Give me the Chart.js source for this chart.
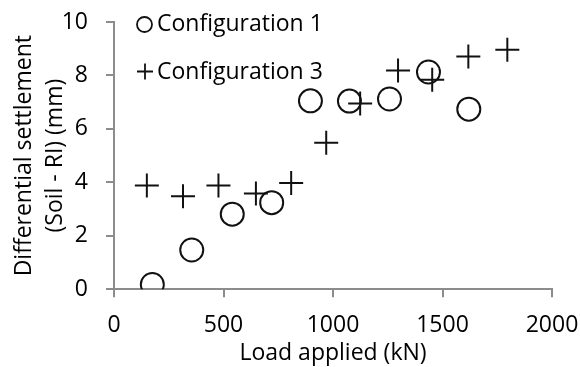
<!DOCTYPE html>
<html>
<head>
<meta charset="utf-8">
<script src="https://cdn.jsdelivr.net/npm/chart.js@4/dist/chart.umd.min.js"></script>
<style>
  html, body { margin: 0; padding: 0; background: #fff; }
  #wrap { width: 580px; height: 367px; position: relative; }
</style>
</head>
<body>
<div id="wrap"><canvas id="c" width="580" height="367"></canvas></div>
<script>
// ---- data ----
const seriesNames = ['Configuration 1', 'Configuration 3'];
const loadConfig1 = [175, 355, 540, 720, 897, 1075, 1258, 1436, 1620];
const settleConfig1 = [0.18, 1.47, 2.81, 3.24, 7.05, 7.04, 7.12, 8.13, 6.74];
const loadConfig3 = [150, 315, 477, 648, 809, 969, 1124, 1297, 1453, 1618, 1796];
const settleConfig3 = [3.88, 3.48, 3.88, 3.58, 3.98, 5.48, 6.95, 8.19, 7.84, 8.71, 8.96];
const xTicks = [0, 500, 1000, 1500, 2000];
const yTicks = [0, 2, 4, 6, 8, 10];
const xTitle = 'Load applied (kN)';
const yTitle = ['Differential settlement', '(Soil - RI) (mm)'];

const FONT = '"Open Sans", "Noto Sans", sans-serif';
const FSIZE = 23;
const AXIS = '#8c8c8c';
const INK = '#111111';

function pts(xs, ys) { return xs.map((x, i) => ({ x: x, y: ys[i] })); }

const insideLegend = {
  id: 'insideLegend',
  afterDraw(chart) {
    const ctx = chart.ctx;
    const items = [
      { ds: chart.data.datasets[0], mx: 144.5, my: 24.5, r: 7.5, ty: 31 },
      { ds: chart.data.datasets[1], mx: 145, my: 71.5, r: 8, ty: 79 }
    ];
    ctx.save();
    items.forEach(it => {
      ctx.strokeStyle = INK;
      ctx.fillStyle = 'rgba(0,0,0,0)';
      ctx.lineWidth = 1.8;
      Chart.helpers.drawPoint(ctx, { pointStyle: it.ds.pointStyle, radius: it.r, rotation: 0, borderWidth: 1.8 }, it.mx, it.my);
      ctx.fillStyle = '#000';
      ctx.font = FSIZE + 'px ' + FONT;
      ctx.textAlign = 'left';
      ctx.textBaseline = 'alphabetic';
      ctx.fillText(it.ds.label, 157, it.ty);
    });
    ctx.restore();
  }
};

new Chart(document.getElementById('c'), {
  type: 'scatter',
  data: {
    datasets: [
      {
        label: seriesNames[0],
        data: pts(loadConfig1, settleConfig1),
        pointStyle: 'circle',
        pointRadius: 11.5,
        pointHoverRadius: 11.5,
        borderWidth: 2,
        borderColor: INK,
        backgroundColor: 'rgba(0,0,0,0)'
      },
      {
        label: seriesNames[1],
        data: pts(loadConfig3, settleConfig3),
        pointStyle: 'cross',
        pointRadius: 12,
        pointHoverRadius: 12,
        borderWidth: 2,
        borderColor: INK,
        backgroundColor: INK
      }
    ]
  },
  options: {
    responsive: false,
    animation: false,
    events: [],
    layout: { padding: { left: 0, right: 28, top: 22, bottom: 0 } },
    plugins: {
      legend: { display: false },
      tooltip: { enabled: false }
    },
    scales: {
      x: {
        type: 'linear',
        min: 0, max: 2000,
        afterBuildTicks: (s) => { s.ticks = xTicks.map(v => ({ value: v })); },
        afterFit: (s) => { s.height = 77.7; s.paddingLeft = 0; s.paddingRight = 0; },
        grid: { drawOnChartArea: false, drawTicks: true, tickLength: 8, color: AXIS, lineWidth: 2 },
        border: { display: true, color: AXIS, width: 2 },
        ticks: { color: '#000', font: { family: FONT, size: FSIZE }, padding: 14, maxRotation: 0, callback: (v) => String(v) },
        title: { display: true, text: xTitle, color: '#000', font: { family: FONT, size: FSIZE, lineHeight: 1.2 }, padding: { top: 0, bottom: 0 } }
      },
      y: {
        type: 'linear',
        min: 0, max: 10,
        afterBuildTicks: (s) => { s.ticks = yTicks.map(v => ({ value: v })); },
        afterFit: (s) => { s.width = 114; s.paddingTop = 0; s.paddingBottom = 0; },
        grid: { drawOnChartArea: false, drawTicks: true, tickLength: 8, color: AXIS, lineWidth: 2 },
        border: { display: true, color: AXIS, width: 2 },
        ticks: { color: '#000', font: { family: FONT, size: FSIZE }, padding: 18, callback: (v) => String(v) },
        title: { display: true, text: yTitle, color: '#000', font: { family: FONT, size: FSIZE, lineHeight: 1.35 }, padding: { top: 9, bottom: 0 } }
      }
    }
  },
  plugins: [insideLegend]
});
</script>
</body>
</html>
